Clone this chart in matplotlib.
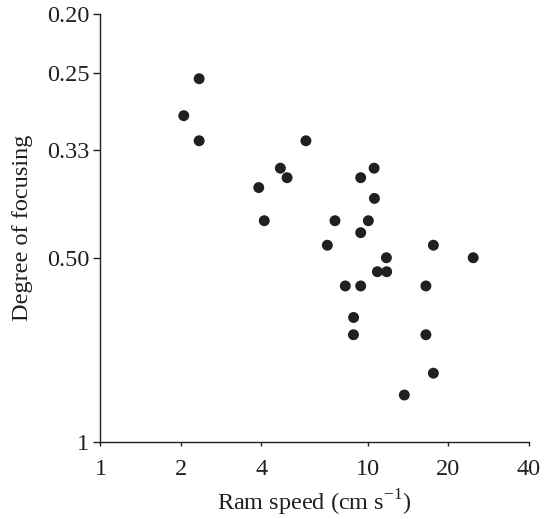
import matplotlib.pyplot as plt
from matplotlib.ticker import FixedLocator, NullLocator

# ram speed (cm/s) and degree of focusing
speed = [2.34, 2.05, 2.34, 5.87, 4.71, 4.99, 3.91, 10.56, 9.41, 10.59,
         4.10, 7.54, 10.05, 9.41, 7.06, 17.6, 11.74, 24.8, 10.86, 11.77,
         8.24, 9.41, 16.5, 8.85, 8.84, 16.5, 17.6, 13.7]
focusing = [0.255, 0.293, 0.322, 0.322, 0.357, 0.370, 0.384, 0.357, 0.370, 0.400,
            0.435, 0.435, 0.435, 0.455, 0.477, 0.477, 0.500, 0.500, 0.527, 0.527,
            0.556, 0.556, 0.556, 0.626, 0.668, 0.668, 0.772, 0.838]

xticks = [1, 2, 4, 10, 20, 40]
xlabels = ['1', '2', '4', '10', '20', '40']
yticks = [0.2, 0.25, 1 / 3, 0.5, 1]
ylabels = ['0.20', '0.25', '0.33', '0.50', '1']

plt.rcParams['font.family'] = ['Liberation Serif', 'DejaVu Serif']

fig = plt.figure(figsize=(5.48, 5.19), dpi=100)
ax = fig.add_axes([0.1833, 0.1484, 0.7815, 0.8243])

ax.scatter(speed, focusing, s=62, color='#231f20', edgecolors='none', zorder=3)

ax.set_xscale('log')
ax.set_yscale('log')
ax.set_xlim(1, 40)
ax.set_ylim(1, 0.2)  # inverted, 0.20 at the top

ax.xaxis.set_major_locator(FixedLocator(xticks))
ax.xaxis.set_minor_locator(NullLocator())
ax.set_xticklabels(xlabels)
ax.yaxis.set_major_locator(FixedLocator(yticks))
ax.yaxis.set_minor_locator(NullLocator())
ax.set_yticklabels(ylabels)

for s in ['top', 'right']:
    ax.spines[s].set_visible(False)
for s in ['left', 'bottom']:
    ax.spines[s].set_linewidth(1.0)
    ax.spines[s].set_color('#231f20')

ax.tick_params(axis='x', direction='out', length=3, width=1, labelsize=17.5, pad=9, colors='#231f20')
ax.tick_params(axis='y', direction='out', length=5, width=1, labelsize=17.5, pad=3, colors='#231f20')

ax.set_xlabel('Ram speed (cm s$^{\\mathregular{-1}}$)', fontsize=17.5, color='#231f20', labelpad=6)
ax.set_ylabel('Degree of focusing', fontsize=17.5, color='#231f20', labelpad=10)

fig.savefig('out.png', dpi=100)
